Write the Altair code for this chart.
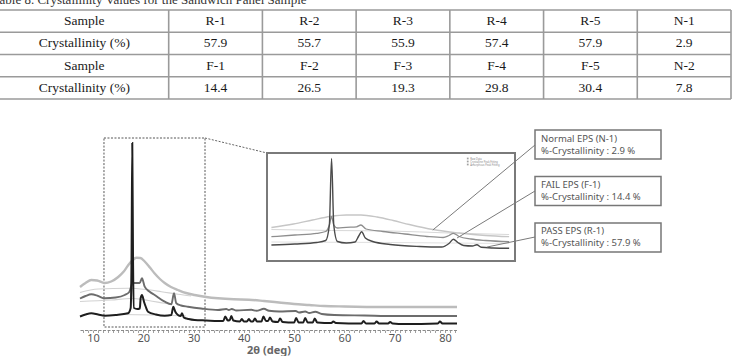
import altair as alt
import pandas as pd

# ---------------- table ----------------
table_caption = "Table 8. Crystallinity Values for the Sandwich Panel Sample"
hdr_sample = "Sample"
hdr_cryst = "Crystallinity (%)"
samples_top = ["R-1", "R-2", "R-3", "R-4", "R-5", "N-1"]
cryst_top = [57.9, 55.7, 55.9, 57.4, 57.9, 2.9]
samples_bottom = ["F-1", "F-2", "F-3", "F-4", "F-5", "N-2"]
cryst_bottom = [14.4, 26.5, 19.3, 29.8, 30.4, 7.8]

# ---------------- main XRD patterns (2theta in deg, intensity in a.u.) ----------------
n1_theta = [7.4, 8.5, 9.65, 10.8, 12.3, 13.6, 15.0, 16.1, 16.95, 17.8, 18.6, 19.4, 20.27, 21.3,
            22.26, 23.3, 24.25, 25.5, 26.9, 28.5, 30.2, 32.5, 34.85, 38.0, 41.0, 44.0, 47.0,
            50.0, 53.0, 56.0, 60.0, 68.0, 82.4]
n1_int = [43, 47, 50, 49.5, 47, 48.5, 53, 58.5, 64.5, 69.5, 72.3, 72, 68.5, 62.5,
          56.5, 51, 47, 43, 40, 37, 35, 33, 31.7, 30.7, 30.3, 29, 27.5,
          26, 25, 24, 23.5, 23, 23]

amor_a_theta = [7.4, 11.0, 17.0, 20.5, 23.6, 26.9, 29.5]
amor_a_int = [37.5, 41, 41.7, 40.5, 38.3, 35.7, 34]
amor_b_theta = [7.4, 13.6, 17.6, 21.0, 24.25, 25.5]
amor_b_int = [28.5, 30, 31.5, 29.5, 26.7, 25.7]
amor_c_theta = [15.5, 22.0, 28.5]
amor_c_int = [15.5, 15, 14]

f1_theta = [7.4, 8.5, 9.65, 11.0, 12.3, 14.5, 16.3, 17.2, 17.6, 17.8, 18.5, 19.27, 19.73, 20.27,
            21.2, 22.26, 24.25, 25.57, 26.1, 26.56, 27.5, 28.88, 31.5, 34.85, 36.5, 37.0, 37.6,
            38.5, 41.5, 42.5, 44.0, 45.0, 47.0, 50.3, 51.0, 52.2, 53.0, 54.2, 55.5, 58.0, 64.0,
            70.0, 82.4]
f1_int = [31.5, 34, 35.7, 34, 31.7, 32.5, 35, 38, 44, 47, 47, 47, 51.7, 43.3,
          38.5, 35, 28.3, 25.7, 36.7, 26.7, 24.5, 23.3, 21.5, 20, 21, 20, 21,
          19.5, 20.2, 19.2, 21.2, 19.2, 18.5, 19, 17.5, 18.5, 17, 18.2, 16, 15, 14.5,
          14, 14]

r1_theta = [7.4, 8.5, 9.65, 11.0, 12.3, 14.5, 16.95, 17.48, 17.65, 17.8, 17.95, 18.14, 18.8, 19.3,
            19.47, 19.73, 20.13, 20.5, 20.93, 22.5, 24.25, 25.57, 25.96, 26.36, 26.89, 27.43,
            27.69, 28.09, 29.0, 30.2, 32.5, 34.85, 35.9, 36.3, 36.8, 37.2, 37.5, 37.9, 39.2,
            39.6, 40.0, 40.6, 41.0, 41.4, 41.8, 42.2, 42.6, 43.5, 43.9, 44.4, 44.8, 45.2, 45.7,
            46.8, 47.2, 47.7, 50.0, 50.4, 50.9, 51.8, 52.2, 52.7, 53.7, 54.1, 54.6, 57.4, 57.8,
            58.3, 63.4, 63.8, 64.3, 66.0, 66.4, 66.9, 68.7, 69.1, 69.6, 72.0, 78.6, 79.0, 79.5,
            82.4]
r1_int = [13.5, 15.5, 16.7, 15.5, 14.3, 15, 16.7, 22, 70, 187, 70, 22, 21, 21.5,
          32, 35, 28.3, 23, 18.3, 15.5, 14.3, 15, 23.3, 18.3, 15, 14,
          16.7, 12.3, 11, 10, 9.5, 9, 9, 13.5, 9.5, 10, 14, 9.5, 8.5,
          11, 8.5, 8.5, 11, 8.5, 8.5, 11.5, 8.5, 8.5, 13.5, 9, 9, 12.5, 8.5,
          8, 11.5, 8, 7.5, 12, 7.5, 7.5, 12, 7.5, 7.5, 11.5, 7.5, 7, 8.5,
          7, 6.5, 9, 6.5, 6.5, 8.5, 6.5, 6.5, 8, 6.5, 6, 6.5, 8.5, 6.5,
          6.5]

# zoomed window of the main pattern
zoom_from, zoom_to = 12.17, 32.27

# ---------------- inset (enlarged 2theta window) ----------------
in_n1_theta = [13.9, 15.4, 16.7, 17.9, 19.0, 20.0, 21.1, 22.2, 23.3, 24.9, 26.7, 28.5, 30.1]
in_n1_int = [33.5, 37, 41, 44.5, 46, 46, 44, 40.5, 36.5, 31.5, 28, 25.5, 24.3]
in_fa_theta = [13.9, 18.0, 22.0, 26.0, 30.1]
in_fa_int = [31.5, 30.5, 30, 28, 26.5]
in_fb_theta = [13.9, 22.0, 30.1]
in_fb_int = [19, 18.5, 17.5]
in_f1_theta = [13.9, 15.5, 17.0, 17.6, 17.85, 18.0, 18.15, 18.4, 19.0, 19.7, 20.0, 20.35, 21.5,
               23.0, 24.5, 25.6, 26.0, 26.3, 26.7, 27.5, 28.5, 30.1]
in_f1_int = [24.3, 26, 27.7, 29.5, 36, 44.3, 36, 33, 33.7, 34.2, 36, 32, 29.5,
             27, 24.5, 23.5, 25.5, 27.7, 24.5, 22, 20.5, 19.3]
in_r1_theta = [13.9, 15.5, 17.0, 17.6, 17.85, 18.0, 18.15, 18.4, 19.0, 19.6, 19.85, 20.05, 20.3,
               20.8, 22.0, 24.0, 25.5, 26.0, 26.3, 26.6, 27.0, 27.6, 27.9, 28.2, 29.0, 30.1]
in_r1_int = [16, 17, 18.5, 20.5, 36, 102.5, 36, 19.5, 18, 19, 25, 29.3, 23,
             19.5, 16.5, 14.5, 14, 17.5, 21.7, 18.5, 15.5, 15, 16.3, 13.7, 13, 12.7]
in_ticks = list(range(14, 31))
in_legend = ["Raw Data", "Crystalline Peak Fitting", "Amorphous Peak Fitting"]
in_legend_theta = [27.45, 27.45, 27.45]
in_legend_int = [102.5, 99.5, 96.5]

# ---------------- callouts ----------------
call_ids = ["N-1", "F-1", "R-1"]
call_titles = ["Normal  EPS (N-1)", "FAIL EPS (F-1)", "PASS EPS (R-1)"]
call_values = [2.9, 14.4, 57.9]
leader_theta = [24.9, 26.55, 28.6]
leader_int = [31, 23, 14]

# =====================================================================
SANS = "Noto Sans"
SERIF = "Liberation Serif"

# ---- table group
sx_t = alt.Scale(domain=[0, 7.8], range=[0, 731], nice=False, zero=False)
sy_t = alt.Scale(domain=[0, 4], range=[10, 99], nice=False, zero=False)

cells = []
for r, (hdr, vals) in enumerate([(hdr_sample, samples_top),
                                 (hdr_cryst, [f"{v:.1f}" for v in cryst_top]),
                                 (hdr_sample, samples_bottom),
                                 (hdr_cryst, [f"{v:.1f}" for v in cryst_bottom])]):
    cells.append({"cx": 0.9, "cy": r + 0.5, "t": hdr})
    for i, v in enumerate(vals):
        cells.append({"cx": 2.3 + i, "cy": r + 0.5, "t": v})
cells_df = pd.DataFrame(cells)
hl_df = pd.DataFrame({"a": [0] * 5, "b": [7.8] * 5, "p": list(range(5))})
vl_df = pd.DataFrame({"p": [1.8 + i for i in range(7)], "a": [0] * 7, "b": [4] * 7})
cap_df = pd.DataFrame({"cx": [-0.08], "cy": [-0.25], "t": [table_caption]})

t_text = alt.Chart(cells_df).mark_text(font=SERIF, fontSize=13.5, color="#1a1a1a", baseline="middle").encode(
    x=alt.X("cx:Q", scale=sx_t, axis=None), y=alt.Y("cy:Q", scale=sy_t, axis=None), text="t:N")
t_h = alt.Chart(hl_df).mark_rule(color="#9a9a9a", strokeWidth=1.6).encode(
    x=alt.X("a:Q", scale=sx_t, axis=None), x2="b:Q", y=alt.Y("p:Q", scale=sy_t, axis=None))
t_v = alt.Chart(vl_df).mark_rule(color="#9a9a9a", strokeWidth=1.6).encode(
    x=alt.X("p:Q", scale=sx_t, axis=None), y=alt.Y("a:Q", scale=sy_t, axis=None), y2="b:Q")
t_cap = alt.Chart(cap_df).mark_text(font=SERIF, fontSize=13, color="#333", align="left",
                                    baseline="alphabetic", clip=True).encode(
    x=alt.X("cx:Q", scale=sx_t, axis=None), y=alt.Y("cy:Q", scale=sy_t, axis=None), text="t:N")
table = alt.layer(t_h, t_v, t_text, t_cap)

# ---- main XRD group
sx_m = alt.Scale(domain=[7.4, 82.4], range=[80, 457], nice=False, zero=False)
sy_m = alt.Scale(domain=[0, 190], range=[330, 140], nice=False, zero=False)
ax_m = alt.Axis(orient="bottom", values=list(range(8, 83)),
                labelExpr="datum.value % 10 == 0 ? datum.label : ''",
                tickSize=2.5, tickColor="#a0a0a0", domainColor="#8a8a8a", domainWidth=1,
                domainDash=[3, 1.5],
                labelColor="#555", labelFont=SANS, labelFontSize=11, labelPadding=0,
                labelOverlap=False, labelFlush=False, grid=False,
                title="2θ (deg)", titleFont=SANS, titleFontSize=11, titleFontWeight="bold",
                titleColor="#666", titlePadding=1)


def mline(theta, inten, color, width):
    df = pd.DataFrame({"theta": theta, "I": inten})
    return alt.Chart(df).mark_line(color=color, strokeWidth=width, interpolate="monotone").encode(
        x=alt.X("theta:Q", scale=sx_m, axis=ax_m), y=alt.Y("I:Q", scale=sy_m, axis=None))


zoom_df = pd.DataFrame({"theta": [zoom_from], "theta2": [zoom_to], "I": [3], "I2": [192]})
zoom_rect = alt.Chart(zoom_df).mark_rect(filled=False, stroke="#555", strokeWidth=1, strokeDash=[2, 1.5]).encode(
    x=alt.X("theta:Q", scale=sx_m, axis=ax_m), x2="theta2:Q",
    y=alt.Y("I:Q", scale=sy_m, axis=None), y2="I2:Q")
conn_df = pd.DataFrame({"theta": [zoom_to], "I": [192]})
conn = alt.Chart(conn_df).mark_rule(color="#666", strokeWidth=1, strokeDash=[2, 1.5]).encode(
    x=alt.X("theta:Q", scale=sx_m, axis=ax_m), y=alt.Y("I:Q", scale=sy_m, axis=None),
    x2=alt.value(267), y2=alt.value(153))

main = alt.layer(
    zoom_rect, conn,
    mline(amor_a_theta, amor_a_int, "#d2d2d2", 1.1),
    mline(amor_b_theta, amor_b_int, "#d2d2d2", 1.1),
    mline(amor_c_theta, amor_c_int, "#d2d2d2", 1.1),
    mline(n1_theta, n1_int, "#bcbcbc", 2.4),
    mline(f1_theta, f1_int, "#6c6c6c", 1.9),
    mline(r1_theta, r1_int, "#1e1e1e", 2.0),
)

# ---- inset group
sx_i = alt.Scale(domain=[13.6, 30.5], range=[267, 515], nice=False, zero=False)
sy_i = alt.Scale(domain=[0, 108], range=[261, 153], nice=False, zero=False)
ax_i = alt.Axis(orient="bottom", offset=-77, values=in_ticks, tickSize=2, tickColor="#aaa",
                domainColor="#d0d0d0", labelColor="#9a9a9a", labelFontSize=3.5, labelFont=SANS,
                labelPadding=1, grid=False, title=None, labelOverlap=False)


def iline(theta, inten, color, width):
    df = pd.DataFrame({"theta": theta, "I": inten})
    return alt.Chart(df).mark_line(color=color, strokeWidth=width, interpolate="monotone").encode(
        x=alt.X("theta:Q", scale=sx_i, axis=ax_i), y=alt.Y("I:Q", scale=sy_i, axis=None))


in_box_df = pd.DataFrame({"theta": [13.6], "theta2": [30.5], "I": [0], "I2": [108]})
in_box = alt.Chart(in_box_df).mark_rect(fill="white", stroke="#7a7a7a", strokeWidth=2).encode(
    x=alt.X("theta:Q", scale=sx_i, axis=ax_i), x2="theta2:Q",
    y=alt.Y("I:Q", scale=sy_i, axis=None), y2="I2:Q")
leg_df = pd.DataFrame({"theta": in_legend_theta, "I": in_legend_int, "t": in_legend})
leg_txt = alt.Chart(leg_df).mark_text(fontSize=2.6, color="#888", align="left", font=SANS).encode(
    x=alt.X("theta:Q", scale=sx_i, axis=ax_i), y=alt.Y("I:Q", scale=sy_i, axis=None), text="t:N")
leg_sym = alt.Chart(leg_df).mark_point(shape="square", size=3, filled=True, color="#777", xOffset=-2.5).encode(
    x=alt.X("theta:Q", scale=sx_i, axis=ax_i), y=alt.Y("I:Q", scale=sy_i, axis=None))

leader_layers = []
box_left = 535
box_mid = [145, 191, 237]
for th, it, ym in zip(leader_theta, leader_int, box_mid):
    ldf = pd.DataFrame({"theta": [th], "I": [it]})
    leader_layers.append(
        alt.Chart(ldf).mark_rule(color="#7a7a7a", strokeWidth=1).encode(
            x=alt.X("theta:Q", scale=sx_i, axis=ax_i), y=alt.Y("I:Q", scale=sy_i, axis=None),
            x2=alt.value(box_left), y2=alt.value(ym)))

inset = alt.layer(
    in_box,
    iline(in_fb_theta, in_fb_int, "#e0e0e0", 1.0),
    iline(in_fa_theta, in_fa_int, "#d8d8d8", 1.0),
    iline(in_n1_theta, in_n1_int, "#c6c6c6", 1.3),
    iline(in_f1_theta, in_f1_int, "#8e8e8e", 1.3),
    iline(in_r1_theta, in_r1_int, "#4a4a4a", 1.4),
    leg_sym, leg_txt,
    *leader_layers,
)

# ---- callout boxes
sy_c = alt.Scale(type="band", domain=call_ids, range=[130, 252], paddingInner=0.376, paddingOuter=0)
call_df = pd.DataFrame({
    "id": call_ids,
    "l1": call_titles,
    "l2": [f"%-Crystallinity : {v} %" for v in call_values],
})
c_rect = alt.Chart(call_df).mark_rect(fill="white", stroke="#777", strokeWidth=1.5).encode(
    y=alt.Y("id:N", scale=sy_c, axis=None), x=alt.value(535), x2=alt.value(661))
c_t1 = alt.Chart(call_df).mark_text(font=SANS, fontSize=9.5, color="#555", align="left",
                                    baseline="middle", dy=-6).encode(
    y=alt.Y("id:N", scale=sy_c, axis=None), x=alt.value(541), text="l1:N")
c_t2 = alt.Chart(call_df).mark_text(font=SANS, fontSize=9.5, color="#555", align="left",
                                    baseline="middle", dy=6).encode(
    y=alt.Y("id:N", scale=sy_c, axis=None), x=alt.value(541), text="l2:N")
callouts = alt.layer(c_rect, c_t1, c_t2)

chart = alt.layer(main, inset, table, callouts).resolve_scale(
    x="independent", y="independent"
).properties(
    width=734, height=330,
    padding={"left": 0, "top": 0, "right": 0, "bottom": 26},
    autosize="none",
    background="white",
).configure_view(stroke=None)

chart.save("out.html", embed_options={"renderer": "svg", "actions": False})
